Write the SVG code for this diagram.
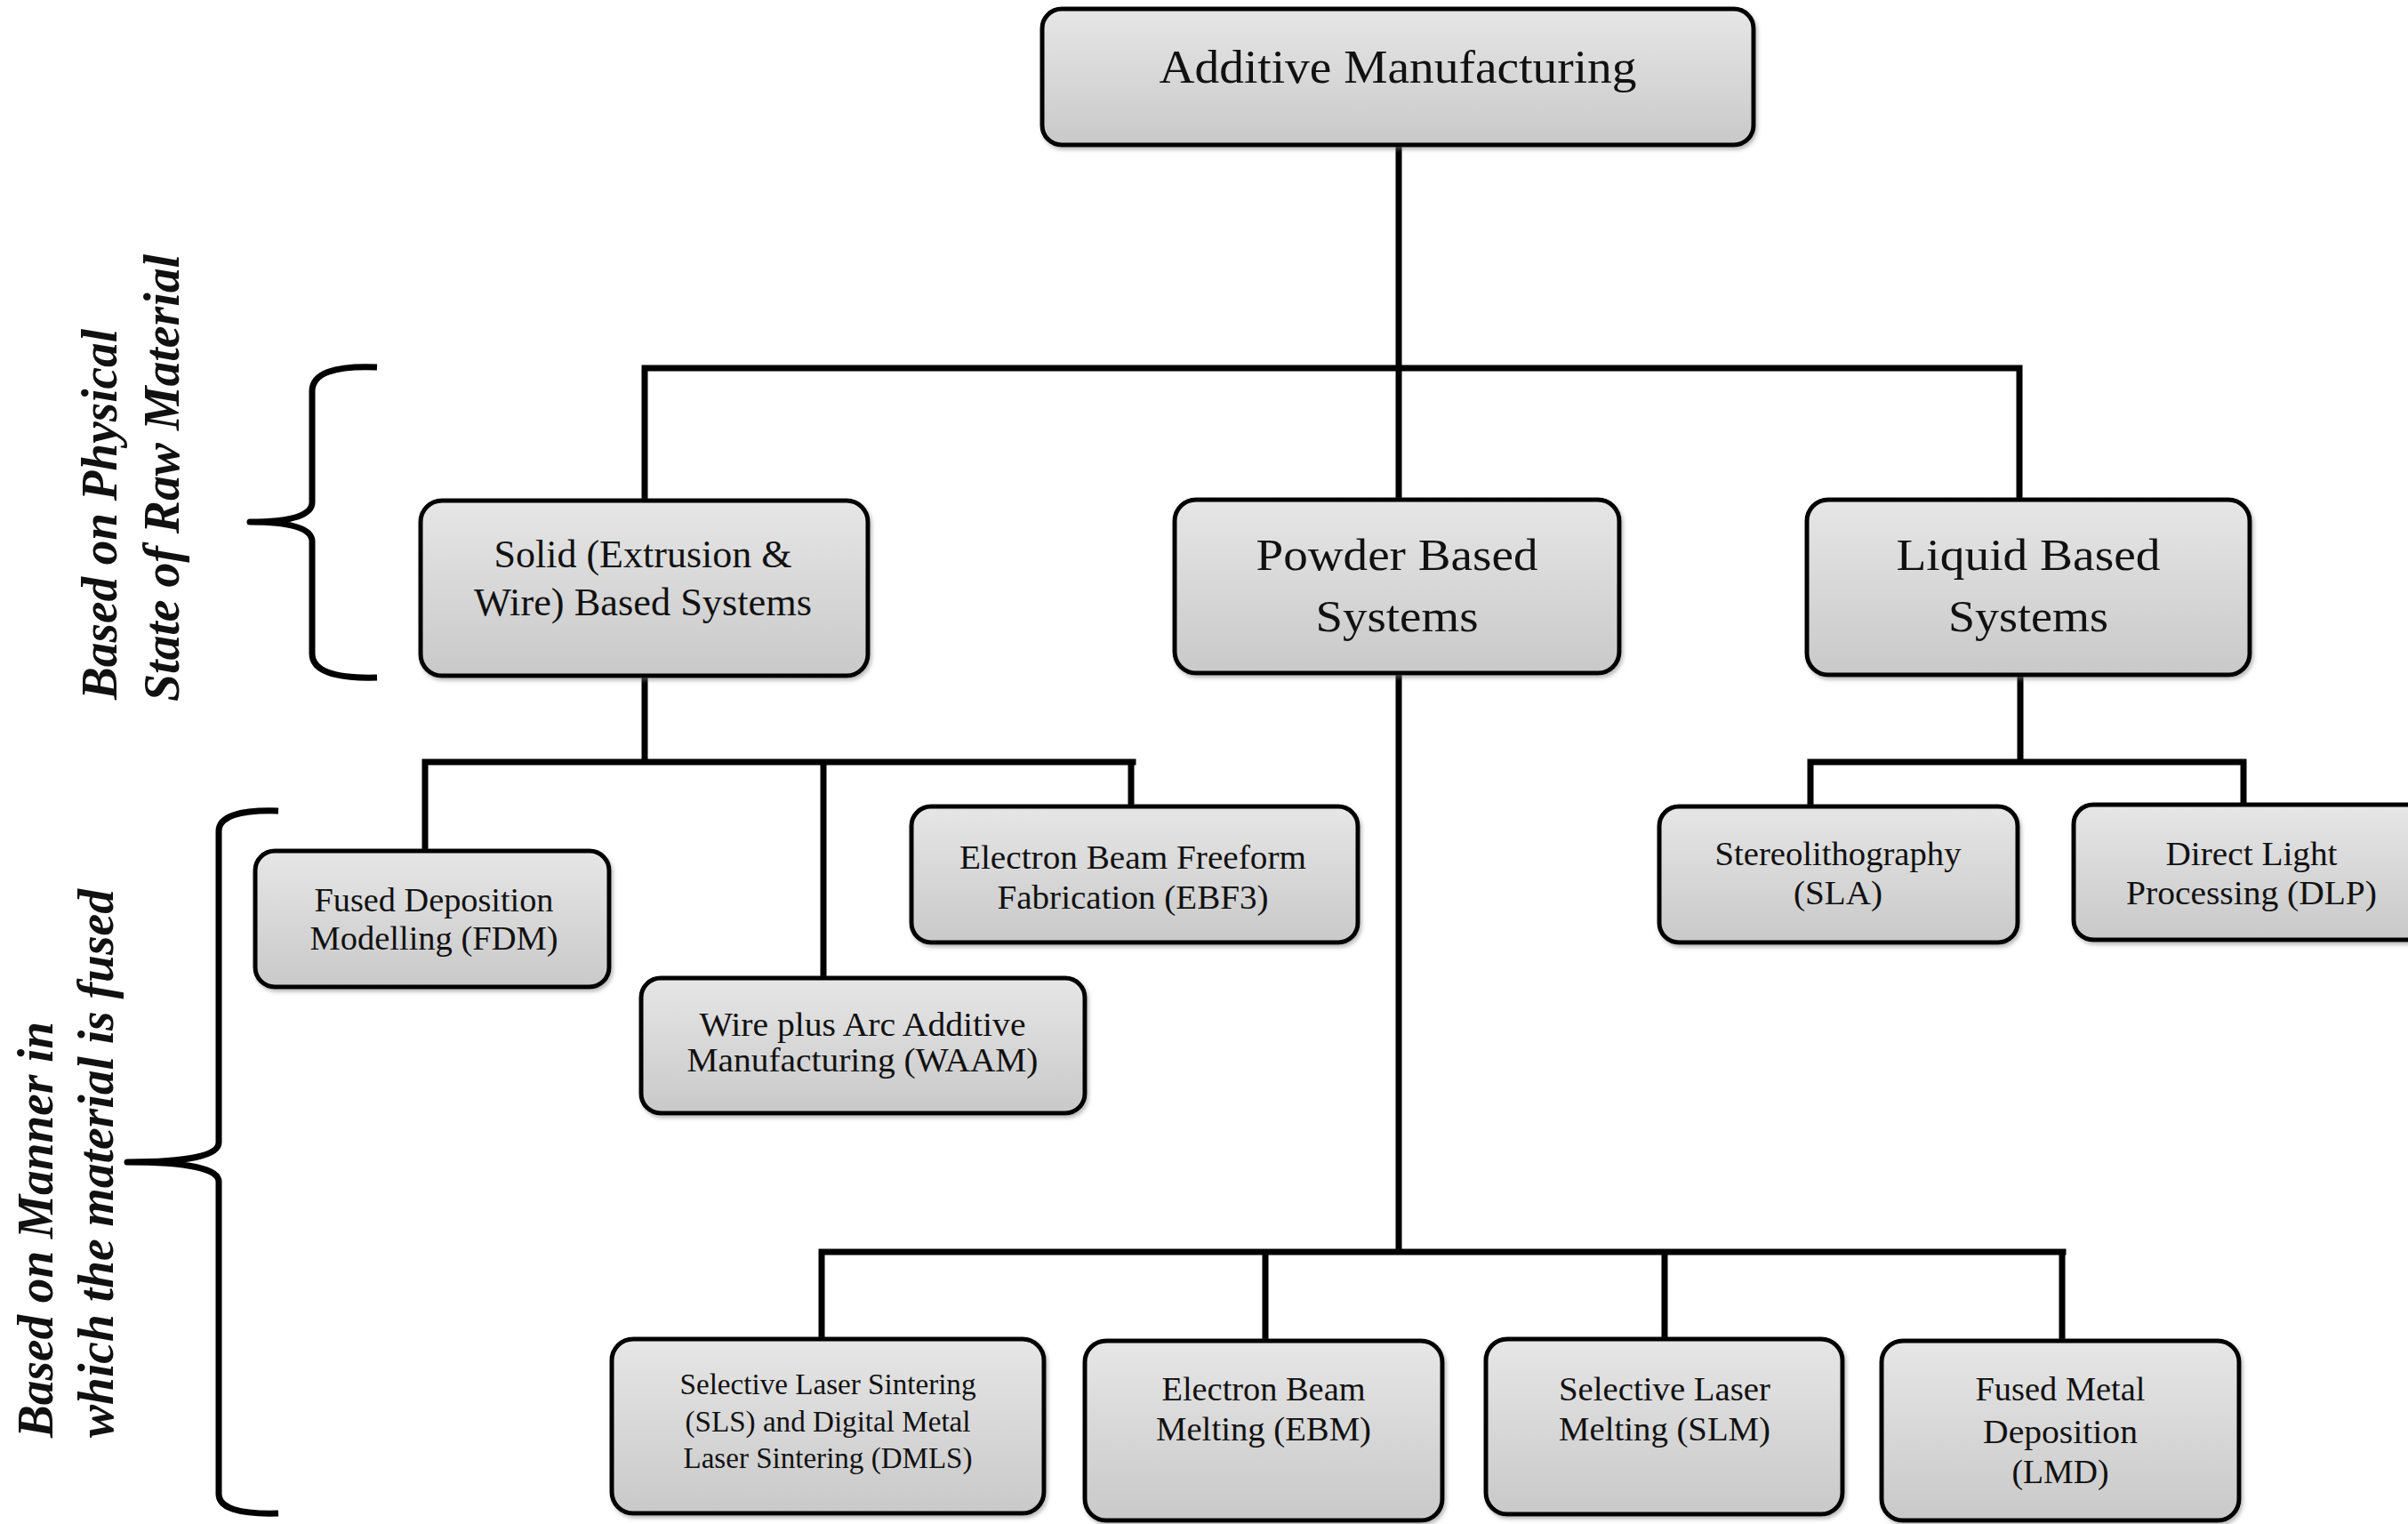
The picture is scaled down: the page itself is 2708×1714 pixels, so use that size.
<svg xmlns="http://www.w3.org/2000/svg" width="2708" height="1714" viewBox="0 0 2708 1714">
<defs>
<linearGradient id="g" x1="0" y1="0" x2="0" y2="1">
<stop offset="0" stop-color="#e6e6e6"/>
<stop offset="1" stop-color="#c9c9c9"/>
</linearGradient>
<filter id="sh" x="-5%" y="-5%" width="110%" height="115%">
<feDropShadow dx="2" dy="3" stdDeviation="2" flood-color="#777" flood-opacity="0.5"/>
</filter>
</defs>
<style>
.box{fill:url(#g);stroke:#000;stroke-width:5;filter:url(#sh)}
.t{font-family:"Liberation Serif","Times New Roman",serif;fill:#111;text-anchor:middle}
.c{fill:none;stroke:#000;stroke-width:7;stroke-linecap:square}
.br{fill:none;stroke:#000;stroke-width:7;stroke-linejoin:round}
.side{font-family:"Liberation Serif","Times New Roman",serif;font-weight:bold;font-style:italic;font-size:56px;fill:#111}
</style>
<rect width="2708" height="1714" fill="#fff"/>

<g id="connectors">
<path class="c" d="M1573,163 V414 M725,414 H2271 M725,414 V563 M1573,414 V562 M2271,414 V562"/>
<path class="c" d="M725,760 V857 M478,857 H1274 M478,857 V957 M926,857 V1100 M1272,857 V907"/>
<path class="c" d="M1573,757 V1408 M924,1408 H2320 M924,1408 V1506 M1423,1408 V1508 M1872,1408 V1506 M2319,1408 V1508"/>
<path class="c" d="M2272,759 V857 M2036,857 H2523 M2036,857 V907 M2523,857 V905"/>
</g>

<g id="braces">
<path class="br" d="M424,413 Q351,410 351,440 V565 Q351,587 281,587 Q351,587 351,609 V735 Q351,764 424,762"/>
<path class="br" d="M313,912 Q246,910 246,935 V1285 Q246,1307 143,1307 Q246,1307 246,1329 V1680 Q246,1704 313,1702"/>
</g>

<g id="labels">
<text class="side" transform="translate(131,787) rotate(-90)" textLength="417" lengthAdjust="spacingAndGlyphs">Based on Physical</text>
<text class="side" transform="translate(201,789) rotate(-90)" textLength="503" lengthAdjust="spacingAndGlyphs">State of Raw Material</text>
<text class="side" transform="translate(59,1617) rotate(-90)" textLength="468" lengthAdjust="spacingAndGlyphs">Based on Manner in</text>
<text class="side" transform="translate(127,1617) rotate(-90)" textLength="617" lengthAdjust="spacingAndGlyphs">which the material is fused</text>
</g>

<g id="n-am">
<rect class="box" x="1172" y="10" width="800" height="153" rx="22"/>
<text class="t" x="1572" y="93" font-size="52" textLength="537" lengthAdjust="spacingAndGlyphs">Additive Manufacturing</text>
</g>

<g id="n-solid">
<rect class="box" x="473" y="563" width="503" height="197" rx="24"/>
<text class="t" x="723" y="638" font-size="44" textLength="335" lengthAdjust="spacingAndGlyphs">Solid (Extrusion &amp;</text>
<text class="t" x="723" y="692" font-size="44" textLength="380" lengthAdjust="spacingAndGlyphs">Wire) Based Systems</text>
</g>

<g id="n-powder">
<rect class="box" x="1321" y="562" width="500" height="195" rx="24"/>
<text class="t" x="1571" y="641" font-size="50" textLength="317" lengthAdjust="spacingAndGlyphs">Powder Based</text>
<text class="t" x="1571" y="710" font-size="50" textLength="183" lengthAdjust="spacingAndGlyphs">Systems</text>
</g>

<g id="n-liquid">
<rect class="box" x="2032" y="562" width="498" height="197" rx="24"/>
<text class="t" x="2281" y="641" font-size="50" textLength="297" lengthAdjust="spacingAndGlyphs">Liquid Based</text>
<text class="t" x="2281" y="710" font-size="50" textLength="180" lengthAdjust="spacingAndGlyphs">Systems</text>
</g>

<g id="n-fdm">
<rect class="box" x="287" y="957" width="398" height="153" rx="22"/>
<text class="t" x="488" y="1025" font-size="38" textLength="269" lengthAdjust="spacingAndGlyphs">Fused Deposition</text>
<text class="t" x="488" y="1068" font-size="38" textLength="279" lengthAdjust="spacingAndGlyphs">Modelling (FDM)</text>
</g>

<g id="n-waam">
<rect class="box" x="721" y="1100" width="499" height="152" rx="22"/>
<text class="t" x="970" y="1165" font-size="38" textLength="367" lengthAdjust="spacingAndGlyphs">Wire plus Arc Additive</text>
<text class="t" x="970" y="1205" font-size="38" textLength="395" lengthAdjust="spacingAndGlyphs">Manufacturing (WAAM)</text>
</g>

<g id="n-ebf3">
<rect class="box" x="1025" y="907" width="502" height="153" rx="22"/>
<text class="t" x="1274" y="977" font-size="38" textLength="390" lengthAdjust="spacingAndGlyphs">Electron Beam Freeform</text>
<text class="t" x="1274" y="1022" font-size="38" textLength="305" lengthAdjust="spacingAndGlyphs">Fabrication (EBF3)</text>
</g>

<g id="n-sla">
<rect class="box" x="1866" y="907" width="403" height="153" rx="22"/>
<text class="t" x="2067" y="973" font-size="38" textLength="277" lengthAdjust="spacingAndGlyphs">Stereolithography</text>
<text class="t" x="2067" y="1017" font-size="38" textLength="100" lengthAdjust="spacingAndGlyphs">(SLA)</text>
</g>

<g id="n-dlp">
<rect class="box" x="2332" y="905" width="400" height="152" rx="22"/>
<text class="t" x="2532" y="973" font-size="38" textLength="193" lengthAdjust="spacingAndGlyphs">Direct Light</text>
<text class="t" x="2532" y="1017" font-size="38" textLength="282" lengthAdjust="spacingAndGlyphs">Processing (DLP)</text>
</g>

<g id="n-sls">
<rect class="box" x="688" y="1506" width="486" height="196" rx="24"/>
<text class="t" x="931" y="1568" font-size="34" textLength="333" lengthAdjust="spacingAndGlyphs">Selective Laser Sintering</text>
<text class="t" x="931" y="1610" font-size="34" textLength="321" lengthAdjust="spacingAndGlyphs">(SLS) and Digital Metal</text>
<text class="t" x="931" y="1651" font-size="34" textLength="325" lengthAdjust="spacingAndGlyphs">Laser Sintering (DMLS)</text>
</g>

<g id="n-ebm">
<rect class="box" x="1220" y="1508" width="402" height="202" rx="24"/>
<text class="t" x="1421" y="1575" font-size="38" textLength="229" lengthAdjust="spacingAndGlyphs">Electron Beam</text>
<text class="t" x="1421" y="1620" font-size="38" textLength="242" lengthAdjust="spacingAndGlyphs">Melting (EBM)</text>
</g>

<g id="n-slm">
<rect class="box" x="1671" y="1506" width="401" height="197" rx="24"/>
<text class="t" x="1872" y="1575" font-size="38" textLength="238" lengthAdjust="spacingAndGlyphs">Selective Laser</text>
<text class="t" x="1872" y="1620" font-size="38" textLength="238" lengthAdjust="spacingAndGlyphs">Melting (SLM)</text>
</g>

<g id="n-lmd">
<rect class="box" x="2116" y="1508" width="402" height="202" rx="24"/>
<text class="t" x="2317" y="1575" font-size="38" textLength="191" lengthAdjust="spacingAndGlyphs">Fused Metal</text>
<text class="t" x="2317" y="1623" font-size="38" textLength="174" lengthAdjust="spacingAndGlyphs">Deposition</text>
<text class="t" x="2317" y="1668" font-size="38" textLength="109" lengthAdjust="spacingAndGlyphs">(LMD)</text>
</g>
</svg>
